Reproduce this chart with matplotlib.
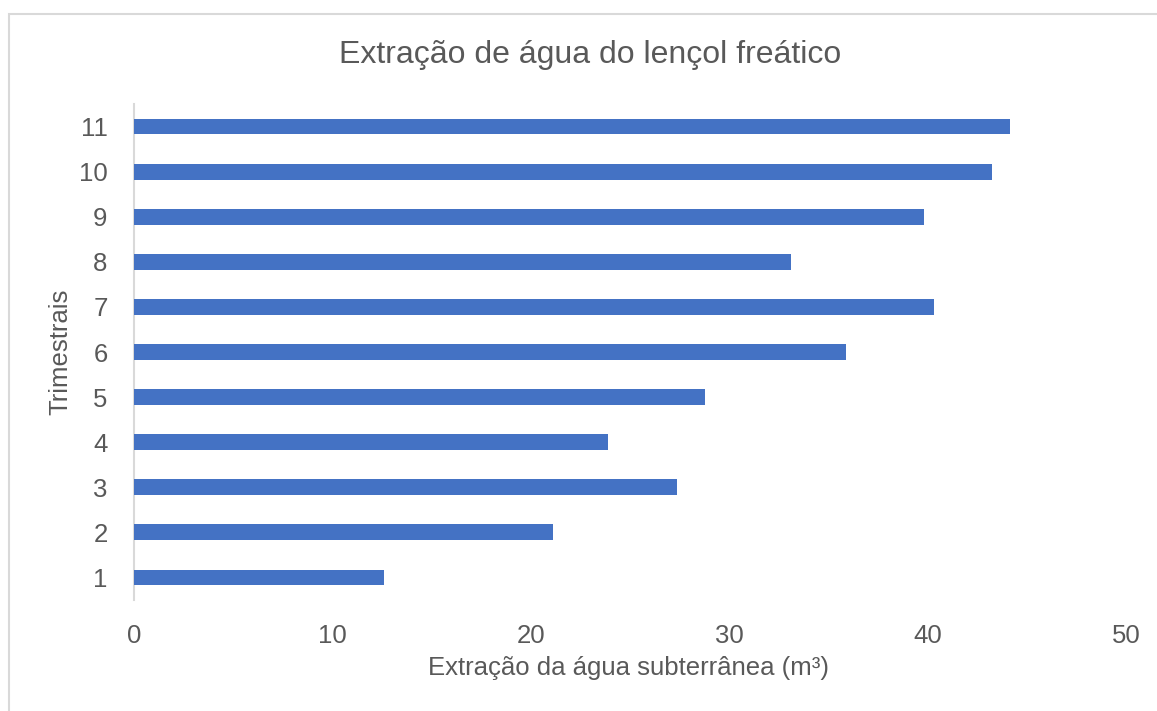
import matplotlib.pyplot as plt
from matplotlib.patches import Rectangle

# Data
trimestres = [1, 2, 3, 4, 5, 6, 7, 8, 9, 10, 11]
extracao = [12.6, 21.1, 27.35, 23.9, 28.8, 35.9, 40.3, 33.1, 39.8, 43.25, 44.15]
x_ticks = [0, 10, 20, 30, 40, 50]

plt.rcParams['font.family'] = ['Liberation Sans', 'DejaVu Sans']
text_color = '#595959'
bar_color = '#4472C4'

fig = plt.figure(figsize=(11.57, 7.11), dpi=100)
fig.patches.append(Rectangle((9 / 1157, -0.1), 1.2, 1.1 - 14 / 711,
                             transform=fig.transFigure, fill=False,
                             edgecolor='#D9D9D9', linewidth=1.5))

ax = fig.add_axes([134 / 1157, 1 - 600 / 711, 992 / 1157, 496 / 711])
ax.barh(trimestres, extracao, height=0.35, color=bar_color, zorder=3)

ax.set_xlim(0, 50)
ax.set_ylim(0.5, 11.5)
ax.set_xticks(x_ticks)
ax.set_yticks(trimestres)
ax.tick_params(axis='both', length=0, labelsize=18.5, colors=text_color)
ax.tick_params(axis='x', pad=17)
ax.tick_params(axis='y', pad=19)

for side in ['top', 'right', 'bottom']:
    ax.spines[side].set_visible(False)
ax.spines['left'].set_color('#D9D9D9')
ax.spines['left'].set_linewidth(1.5)

fig.text(590 / 1157, 1 - 55 / 711, 'Extração de água do lençol freático',
         ha='center', va='center', fontsize=23, color=text_color)
fig.text(629 / 1157, 1 - 668 / 711, 'Extração da água subterrânea (m³)',
         ha='center', va='center', fontsize=18.5, color=text_color)
fig.text(60 / 1157, 1 - 352 / 711, 'Trimestrais', rotation=90,
         ha='center', va='center', fontsize=18.5, color=text_color)

fig.savefig('out.png', dpi=100)
